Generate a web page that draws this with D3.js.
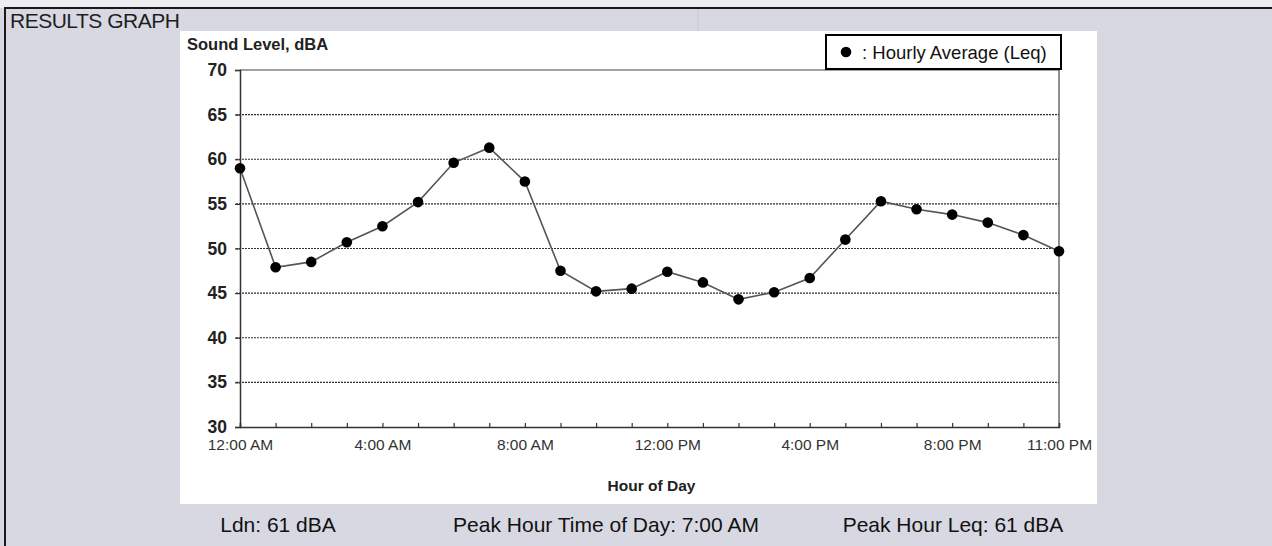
<!DOCTYPE html>
<html>
<head>
<meta charset="utf-8">
<script src="https://cdn.jsdelivr.net/npm/d3@7"></script>
<style>
  html, body { margin: 0; padding: 0; background: #d7d8e2; }
  svg { display: block; font-family: "Liberation Sans", Arial, sans-serif; }
</style>
</head>
<body>
<svg id="chart" width="1272" height="546"></svg>
<script>
// Hour of day (0 = midnight) and the measured hourly average sound level (Leq, dBA)
const hours = [0, 1, 2, 3, 4, 5, 6, 7, 8, 9, 10, 11, 12, 13, 14, 15, 16, 17, 18, 19, 20, 21, 22, 23];
const hourlyLeq = [59.0, 47.9, 48.5, 50.7, 52.5, 55.2, 59.6, 61.3, 57.5, 47.5, 45.2, 45.5,
                   47.4, 46.2, 44.3, 45.1, 46.7, 51.0, 55.3, 54.4, 53.8, 52.9, 51.5, 49.7];

// Axis ticks
const xTickHours = [0, 4, 8, 12, 16, 20, 23];
const xTickLabels = ["12:00 AM", "4:00 AM", "8:00 AM", "12:00 PM", "4:00 PM", "8:00 PM", "11:00 PM"];
const yTicks = [30, 35, 40, 45, 50, 55, 60, 65, 70];

// Summary figures printed below the graph
const summaryLabels = ["Ldn: 61 dBA", "Peak Hour Time of Day: 7:00 AM", "Peak Hour Leq: 61 dBA"];

const svg = d3.select("#chart");

// Page frame
svg.append("rect").attr("x", 0).attr("y", 0).attr("width", 1272).attr("height", 8).attr("fill", "#ececf1");
svg.append("line").attr("x1", 4).attr("x2", 1272).attr("y1", 8).attr("y2", 8)
  .attr("stroke", "#1a1a1a").attr("stroke-width", 2);
svg.append("line").attr("x1", 5).attr("x2", 5).attr("y1", 8).attr("y2", 546)
  .attr("stroke", "#1a1a1a").attr("stroke-width", 2);
svg.append("line").attr("x1", 698).attr("x2", 698).attr("y1", 9).attr("y2", 31)
  .attr("stroke", "#c4c5d0").attr("stroke-width", 1);

svg.append("text").attr("x", 10).attr("y", 28)
  .attr("font-size", 21).attr("fill", "#1e1e1e").attr("letter-spacing", -0.5)
  .text("RESULTS GRAPH");

// White graph panel
svg.append("rect").attr("x", 180).attr("y", 31).attr("width", 917).attr("height", 473).attr("fill", "#ffffff");

const plot = { left: 240, right: 1059, top: 70, bottom: 427 };

const x = d3.scaleLinear().domain([0, 23]).range([plot.left, plot.right]);
const y = d3.scaleLinear().domain([30, 70]).range([plot.bottom, plot.top]);

// Dotted horizontal gridlines
svg.append("g").selectAll("line")
  .data(yTicks.filter(v => v > 30 && v < 70))
  .join("line")
  .attr("x1", plot.left - 4).attr("x2", plot.right)
  .attr("y1", d => y(d)).attr("y2", d => y(d))
  .attr("stroke", "#2e2e2e").attr("stroke-width", 1.1).attr("stroke-dasharray", "2,1");

// Plot frame: top and right edges
svg.append("line").attr("x1", plot.left).attr("x2", plot.right).attr("y1", plot.top).attr("y2", plot.top)
  .attr("stroke", "#444").attr("stroke-width", 1.2);
svg.append("line").attr("x1", plot.right).attr("x2", plot.right).attr("y1", plot.top).attr("y2", plot.bottom)
  .attr("stroke", "#444").attr("stroke-width", 1.2);

// Y axis
const yAxis = d3.axisLeft(y).tickValues(yTicks).tickSize(5).tickPadding(8).tickFormat(d3.format("d"));
const gy = svg.append("g").attr("transform", `translate(${plot.left},0)`).call(yAxis);
gy.select(".domain").attr("stroke", "#333").attr("stroke-width", 1.5);
gy.selectAll(".tick line").attr("stroke", "#333").attr("stroke-width", 1.2);
gy.selectAll(".tick text").attr("font-size", 17.5).attr("font-weight", "bold").attr("fill", "#222")
  .attr("font-family", "Liberation Sans, Arial, sans-serif");

// X axis: a small inward tick at every hour, labels at selected hours
const xAxisTicks = d3.axisBottom(x).tickValues(hours).tickSize(-4).tickFormat("");
const gx = svg.append("g").attr("transform", `translate(0,${plot.bottom})`).call(xAxisTicks);
gx.select(".domain").attr("stroke", "#333").attr("stroke-width", 1.5);
gx.selectAll(".tick line").attr("stroke", "#333").attr("stroke-width", 1.2);

const xAxisLabels = d3.axisBottom(x).tickValues(xTickHours).tickSize(0).tickPadding(12)
  .tickFormat((d, i) => xTickLabels[i]);
const gxl = svg.append("g").attr("transform", `translate(0,${plot.bottom})`).call(xAxisLabels);
gxl.select(".domain").remove();
gxl.selectAll(".tick text").attr("font-size", 15.5).attr("fill", "#333")
  .attr("font-family", "Liberation Sans, Arial, sans-serif");

// Axis titles
svg.append("text").attr("x", 187).attr("y", 50)
  .attr("font-size", 16.5).attr("font-weight", "bold").attr("fill", "#222")
  .text("Sound Level, dBA");
svg.append("text").attr("x", (plot.left + plot.right) / 2 + 2).attr("y", 491)
  .attr("text-anchor", "middle").attr("font-size", 15.5).attr("font-weight", "bold").attr("fill", "#222")
  .text("Hour of Day");

// Hourly Leq line and markers
const line = d3.line().x((d, i) => x(hours[i])).y(d => y(d));
svg.append("path").datum(hourlyLeq)
  .attr("d", line).attr("fill", "none").attr("stroke", "#555").attr("stroke-width", 1.6);
svg.append("g").selectAll("circle")
  .data(hourlyLeq)
  .join("circle")
  .attr("cx", (d, i) => x(hours[i])).attr("cy", d => y(d)).attr("r", 5.3)
  .attr("fill", "#000");

// Legend
const legend = svg.append("g");
legend.append("rect").attr("x", 826).attr("y", 35).attr("width", 235).attr("height", 34)
  .attr("fill", "#fff").attr("stroke", "#000").attr("stroke-width", 2);
legend.append("circle").attr("cx", 846).attr("cy", 52).attr("r", 5.3).attr("fill", "#000");
legend.append("text").attr("x", 862).attr("y", 58.5)
  .attr("font-size", 18.5).attr("fill", "#111")
  .text(": Hourly Average (Leq)");

// Summary line
const summaryX = [278, 606, 953];
svg.append("g").selectAll("text")
  .data(summaryLabels)
  .join("text")
  .attr("x", (d, i) => summaryX[i]).attr("y", 532)
  .attr("text-anchor", "middle").attr("font-size", 21).attr("fill", "#111")
  .text(d => d);
</script>
</body>
</html>
